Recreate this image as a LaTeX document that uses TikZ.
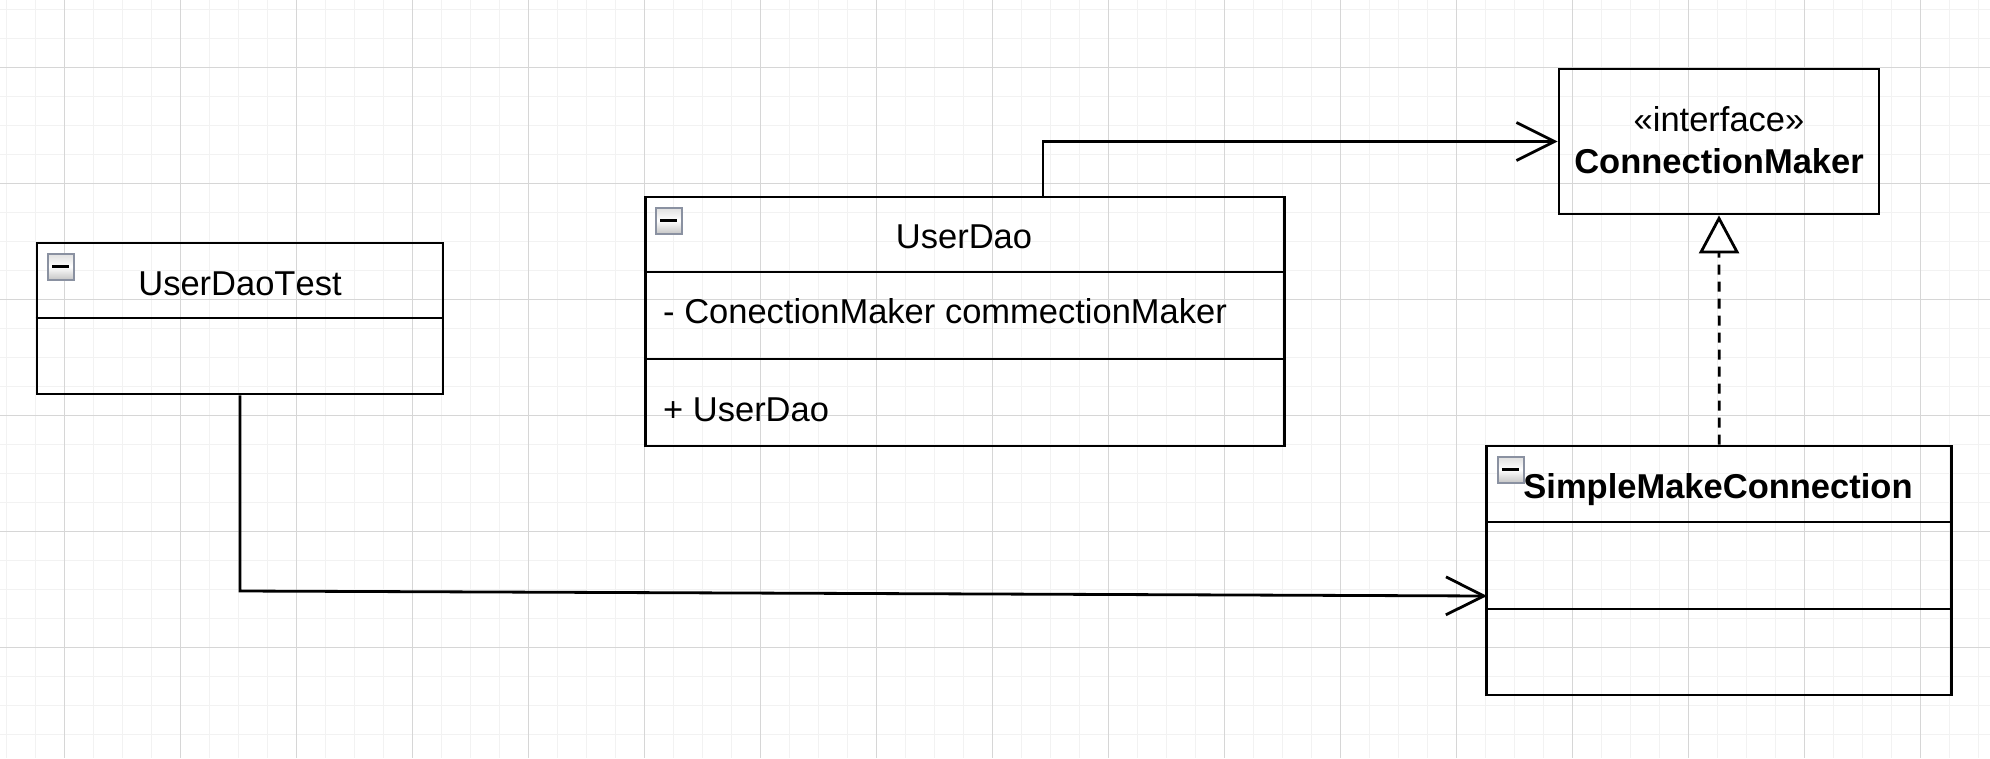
\documentclass[tikz,border=0pt]{standalone}
\usepackage{fontspec}
\setmainfont{Liberation Sans}[Kerning=Off]
\usetikzlibrary{arrows.meta}
\definecolor{grille}{HTML}{F2F2F2}
\definecolor{grilleforte}{HTML}{D6D6D6}
\definecolor{bordicone}{HTML}{8A91A1}
% petite icone "replier" en haut a gauche d'une classe
\newcommand{\replier}[1]{%
	\draw[shift={(#1.north west)},bordicone,line width=2pt,top color=gray!25,bottom color=gray!45,middle color=white] (12.5,12) rectangle (38.5,38);
	\draw[shift={(#1.north west)},line width=3pt] (16.5,25) -- (33.5,25);}
\begin{document}
\begin{tikzpicture}[x=1pt,y=-1pt,
	classe/.style={draw,line width=2.8pt,inner sep=0pt},
	texte/.style={anchor=base,inner sep=0pt,font=\fontsize{34.5}{40}\selectfont},
	gauche/.style={texte,anchor=base west},
	assoc/.style={line width=2.8pt,-{Straight Barb[length=38pt,width=38pt,line width=2.8pt]}},
	realise/.style={line width=2.8pt,dash pattern=on 10pt off 7pt,-{Triangle[open,length=38pt,width=40pt,line width=2.8pt,fill=white]}}]
	\useasboundingbox (0,0) rectangle (1990,758);
	% la grille
	\foreach \i in {0,...,68} \draw[grille,line width=1pt] (6.7+29*\i,0) -- (6.7+29*\i,758);
	\foreach \j in {0,...,26} \draw[grille,line width=1pt] (0,9.3+29*\j) -- (1990,9.3+29*\j);
	\foreach \i in {0,...,16} \draw[grilleforte,line width=1pt] (64.7+116*\i,0) -- (64.7+116*\i,758);
	\foreach \j in {0,...,6} \draw[grilleforte,line width=1pt] (0,67.3+116*\j) -- (1990,67.3+116*\j);
	% les classes
	\node[classe,minimum width=406pt,minimum height=151pt] (udt) at (240,318.5) {};
	\node[classe,minimum width=639pt,minimum height=249pt] (ud) at (964.7,321.5) {};
	\node[classe,minimum width=320pt,minimum height=145pt] (cm) at (1719,141.5) {};
	\node[classe,minimum width=465pt,minimum height=249pt] (smc) at (1719.3,570.5) {};
	\draw[line width=2.8pt] (udt.west |- 0,318) -- (udt.east |- 0,318);
	\draw[line width=2.8pt] (ud.west |- 0,272) -- (ud.east |- 0,272);
	\draw[line width=2.8pt] (ud.west |- 0,359) -- (ud.east |- 0,359);
	\draw[line width=2.8pt] (smc.west |- 0,522) -- (smc.east |- 0,522);
	\draw[line width=2.8pt] (smc.west |- 0,609) -- (smc.east |- 0,609);
	\replier{udt}
	\replier{ud}
	\replier{smc}
	% les textes
	\node[texte] (udtNom) at (240,295) {UserDaoTest};
	\node[texte] (udNom) at (964,248) {UserDao};
	\node[gauche] (udAttr) at (663,323) {- ConectionMaker commectionMaker};
	\node[gauche] (udMeth) at (663,421.5) {+ UserDao};
	\node[texte] (cmStereo) at (1719,131.5) {«interface»};
	\node[texte,font=\fontsize{34.5}{40}\selectfont\bfseries] (cmNom) at (1719,173) {ConnectionMaker};
	\node[texte,font=\fontsize{34.5}{40}\selectfont\bfseries] (smcNom) at (1718,498) {SimpleMakeConnection};
	% les liens
	\coordinate (udSortie) at (1043,197);
	\coordinate (coude) at (240,591);
	\coordinate (smcEntree) at (1487,596);
	\draw[assoc] (udSortie) |- (cm.west);
	\draw[assoc] (udt.south) -- (coude) -- (smcEntree);
	\draw[realise] (smc.north) -- (cm.south);
\end{tikzpicture}
\end{document}
